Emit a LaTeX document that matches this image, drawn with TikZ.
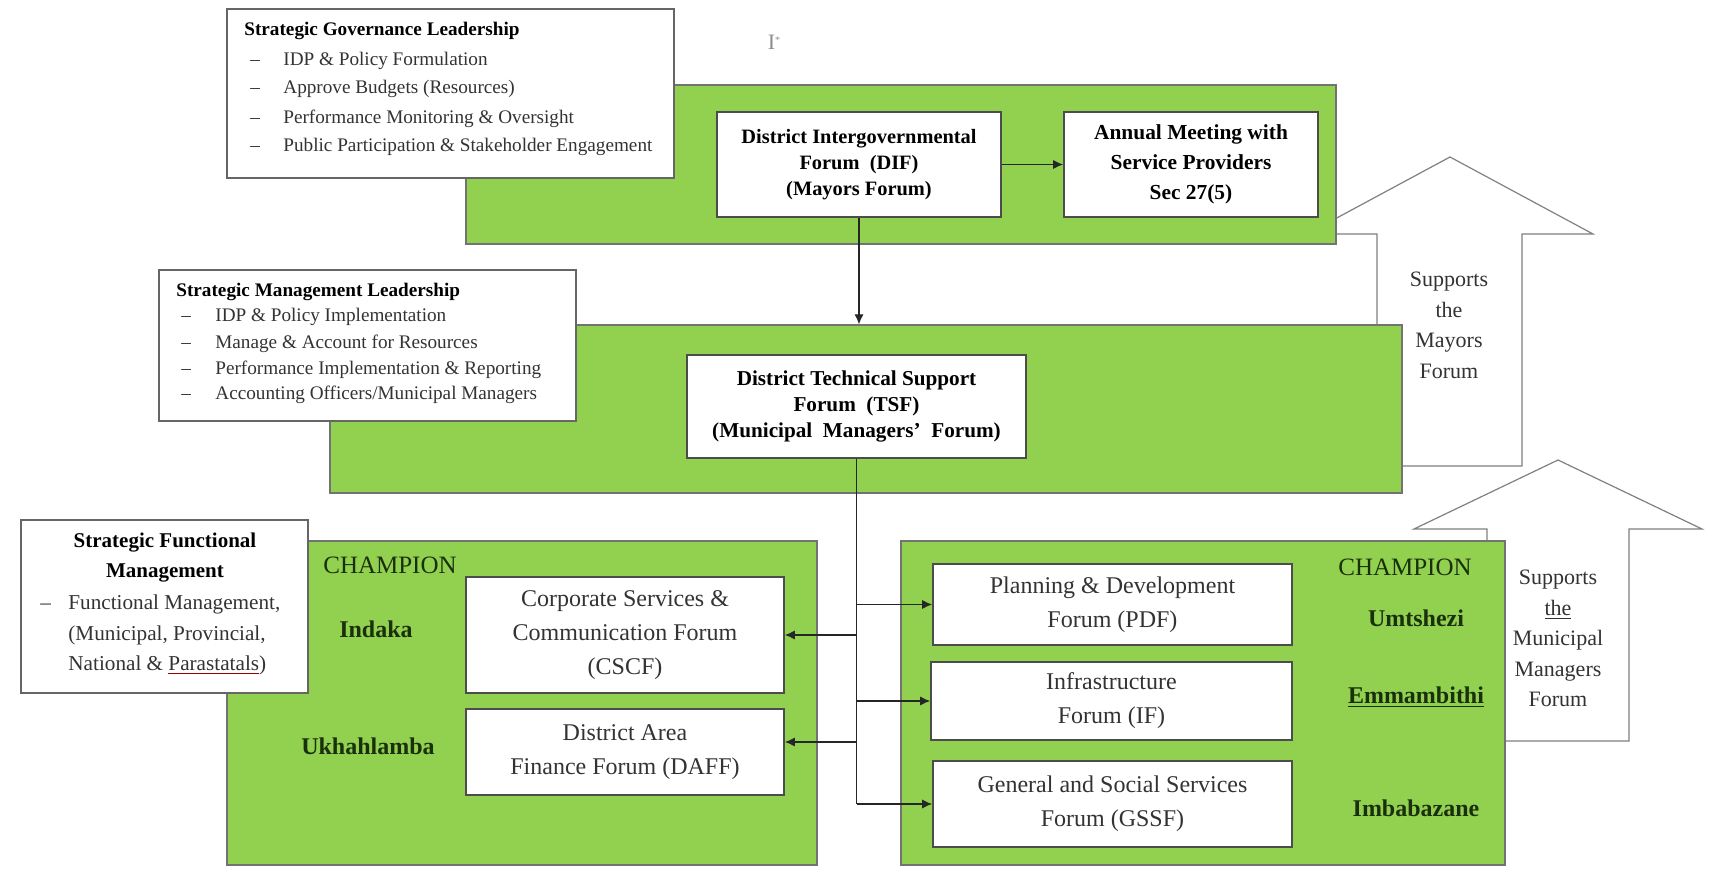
\documentclass[tikz,border=0pt]{standalone}
\usepackage{fontspec}
\setmainfont{Liberation Serif}
\usetikzlibrary{arrows.meta}
\definecolor{grn}{HTML}{92D050}
\definecolor{champc}{HTML}{1A300C}
\begin{document}
\begin{tikzpicture}[x=0.5pt,y=-0.5pt,
  sz/.style 2 args={minimum width=#1*0.5pt,minimum height=#2*0.5pt},
  greenbox/.style={draw=black!55,line width=0.6pt,fill=grn,inner sep=0pt},
  whitebox/.style={draw=black!70,line width=0.8pt,fill=white,inner sep=0pt,align=center},
  forumbox/.style={whitebox,text=black!80,font=\fontsize{12}{17}\selectfont},
  notebox/.style={draw=black!60,line width=0.6pt,fill=white,inner sep=0pt},
  blockarrow/.style={draw=black!50,line width=0.6pt,fill=white},
  conn/.style={draw=black!85,line width=0.6pt},
  arr/.style={conn,-{Latex[length=5pt,width=4.5pt]}},
  lbl/.style={inner sep=0pt,anchor=west,text=black!80,text height=0.7em,text depth=0.2em},
  champ/.style={inner sep=0pt,text=champc,font=\fontsize{12}{14}\selectfont\bfseries},
  suptext/.style={inner sep=0pt,align=center,text=black!80,font=\fontsize{11}{15.3}\selectfont}
]
\useasboundingbox (0,0) rectangle (1721,893);
\fill[white] (0,0) rectangle (1721,893);

% cursor mark
\node[inner sep=0pt,text=black!45,font=\fontsize{11}{12}\selectfont] (cursor) at (774,42) {I\raisebox{0.6ex}{\tiny*}};

% block arrows (behind the green panels)
\draw[blockarrow] (1450,157) -- (1593,234) -- (1522,234) -- (1522,466) -- (1377,466) -- (1377,234) -- (1307,234) -- cycle;
\draw[blockarrow] (1558,460) -- (1702,529) -- (1629,529) -- (1629,741) -- (1487,741) -- (1487,529) -- (1414,529) -- cycle;
\node[suptext] (sup1) at (1449,325.5) {Supports\\the\\Mayors\\Forum};
\node[suptext] (sup2) at (1558,638.5) {Supports\\\underline{the}\\Municipal\\Managers\\Forum};

% green panels
\node[greenbox, sz={870}{159}] (g1) at (901,164.5) {};
\node[greenbox, sz={1072}{168}] (g2) at (866,409) {};
\node[greenbox, sz={590}{324}] (g3) at (522,703) {};
\node[greenbox, sz={604}{324}] (g4) at (1203,703) {};

% forums
\node[whitebox, sz={284}{105}, font=\fontsize{10.2}{13}\selectfont\bfseries] (DIF) at (859,164.5) {District Intergovernmental\\Forum\ \ (DIF)\\(Mayors Forum)};
\node[whitebox, sz={254}{105}, font=\fontsize{10.7}{15}\selectfont\bfseries] (ANN) at (1191,164.5) {Annual Meeting with\\Service Providers\\Sec 27(5)};
\node[whitebox, sz={339}{103}, font=\fontsize{10.6}{13}\selectfont\bfseries] (TSF) at (856.5,406.5) {District Technical Support\\Forum\ \ (TSF)\\(Municipal\ \ Managers’\ \ Forum)};
\node[forumbox, sz={318}{116}] (CSCF) at (625,635) {Corporate Services \&\\Communication Forum\\(CSCF)};
\node[forumbox, sz={318}{86}] (DAFF) at (625,752) {District Area\\Finance Forum (DAFF)};
\node[forumbox, sz={359}{81}] (PDF) at (1112.5,604.5) {Planning \& Development\\Forum (PDF)};
\node[forumbox, sz={361}{78}] (IF) at (1111.5,701) {Infrastructure\\Forum (IF)};
\node[forumbox, sz={359}{86}] (GSSF) at (1112.5,804) {General and Social Services\\Forum (GSSF)};

% champions
\node[champ,font=\fontsize{12.5}{14}\selectfont] (champL) at (390,565) {CHAMPION};
\node[champ] (indaka) at (376,629) {Indaka};
\node[champ] (ukha) at (368,746) {Ukhahlamba};
\node[champ,font=\fontsize{12.5}{14}\selectfont] (champR) at (1405,567) {CHAMPION};
\node[champ] (umts) at (1416,618) {Umtshezi};
\node[champ] (emma) at (1416,697) {\underline{Emmambithi}};
\node[champ] (imba) at (1416,808) {Imbabazane};

% connectors
\draw[arr] (DIF) -- (ANN);
\draw[arr] (DIF.south) -- (DIF.south |- g2.north);
\draw[conn] (TSF.south) -- (TSF.south |- GSSF.west);
\draw[arr] (TSF.south |- CSCF.east) -- (CSCF.east);
\draw[arr] ([yshift=5pt]TSF.south |- DAFF.east) -- ([yshift=5pt]DAFF.east);
\draw[arr] (TSF.south |- PDF.west) -- (PDF.west);
\draw[arr] (TSF.south |- IF.west) -- (IF.west);
\draw[arr] (TSF.south |- GSSF.west) -- (GSSF.west);

% Strategic Governance Leadership
\node[notebox, sz={447}{169}] (SGL) at (450.5,93.5) {};
\begin{scope}[every node/.style={lbl,font=\fontsize{9.6}{12}\selectfont}]
\node[text=black,font=\fontsize{9.6}{12}\selectfont\bfseries] (sgl0) at (244,31) {Strategic Governance Leadership};
\node (sgl1d) at (250,60.4) {–}; \node (sgl1) at (283,60.4) {IDP \& Policy Formulation};
\node (sgl2d) at (250,89) {–}; \node (sgl2) at (283,89) {Approve Budgets (Resources)};
\node (sgl3d) at (250,118.5) {–}; \node (sgl3) at (283,118.5) {Performance Monitoring \& Oversight};
\node (sgl4d) at (250,147) {–}; \node (sgl4) at (283,147) {Public Participation \& Stakeholder Engagement};
\end{scope}

% Strategic Management Leadership
\node[notebox, sz={417}{151}] (SML) at (367.5,345.5) {};
\begin{scope}[every node/.style={lbl,font=\fontsize{9.6}{12}\selectfont}]
\node[text=black,font=\fontsize{9.6}{12}\selectfont\bfseries] (sml0) at (176,292) {Strategic Management Leadership};
\node (sml1d) at (181,317) {–}; \node (sml1) at (215,317) {IDP \& Policy Implementation};
\node (sml2d) at (181,343.5) {–}; \node (sml2) at (215,343.5) {Manage \& Account for Resources};
\node (sml3d) at (181,370) {–}; \node (sml3) at (215,370) {Performance Implementation \& Reporting};
\node (sml4d) at (181,395) {–}; \node (sml4) at (215,395) {Accounting Officers/Municipal Managers};
\end{scope}

% Strategic Functional Management
\node[notebox, sz={287}{173}] (SFM) at (164.5,606.5) {};
\node[inner sep=0pt,align=center,font=\fontsize{10.5}{15.4}\selectfont\bfseries] (sfm0) at (165,557.5) {Strategic Functional\\Management};
\begin{scope}[every node/.style={lbl,font=\fontsize{10.6}{12}\selectfont}]
\node (sfm1d) at (40,605) {–}; \node (sfm1) at (68,605) {Functional Management,};
\node (sfm2) at (68,635.5) {(Municipal, Provincial,};
\node (sfm3) at (68,665) {National \& {\color{red!60!black}\underline{\color{black!80}Parastatals}})};
\end{scope}
\end{tikzpicture}
\end{document}
